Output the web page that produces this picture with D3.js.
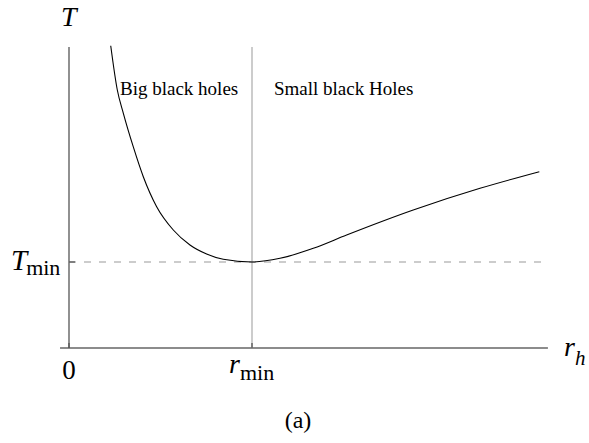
<!DOCTYPE html>
<html><head><meta charset="utf-8">
<script src="https://cdn.jsdelivr.net/npm/d3@7"></script>
<style>body{margin:0;background:#fff}svg{display:block}</style>
</head><body><svg id="c" width="589" height="443"></svg>
<script>
// data (units: r in r_min, T in T_min)
const rValues = [0.228,0.264,0.297,0.351,0.406,0.479,0.570,0.661,0.752,0.843,1.0,1.153,1.335,1.517,1.881,2.246,2.570];
const tValues = [3.515,3.0,2.729,2.341,1.992,1.643,1.372,1.198,1.093,1.031,1.0,1.043,1.159,1.314,1.605,1.857,2.050];
const xTicks = [0, 1];
const xTickLabels = ["0", "r_min"];
const yTicks = [1];
const regionLabels = ["Big black holes", "Small black Holes"];
const caption = "(a)";

const FONT = "'Liberation Serif', 'DejaVu Serif', 'Times New Roman', serif";
const svg = d3.select("#c");
const x = d3.scaleLinear().domain([0, 1]).range([69, 252]);
const y = d3.scaleLinear().domain([0, 1]).range([348, 262]);
const xMax = 2.617, yMax = 3.5, rEnd = 2.57;

// axes
svg.append("line").attr("x1", x(-0.049)).attr("x2", x(xMax)).attr("y1", y(0)).attr("y2", y(0))
  .attr("stroke", "#666").attr("stroke-width", 1.4);
svg.append("line").attr("x1", x(0)).attr("x2", x(0)).attr("y1", y(0)).attr("y2", y(yMax))
  .attr("stroke", "#555").attr("stroke-width", 1.3);
// vertical r_min line
svg.append("line").attr("x1", x(1)).attr("x2", x(1)).attr("y1", y(0)).attr("y2", y(yMax))
  .attr("stroke", "#aaa").attr("stroke-width", 1.2);
// dashed T_min
svg.append("line").attr("x1", x(0)).attr("x2", x(rEnd + 0.01)).attr("y1", y(1)).attr("y2", y(1))
  .attr("stroke", "#999").attr("stroke-width", 1).attr("stroke-dasharray", "7,8");
// ticks
xTicks.forEach(t => svg.append("line").attr("x1", x(t)).attr("x2", x(t)).attr("y1", y(0)).attr("y2", y(0) - 5)
  .attr("stroke", "#555").attr("stroke-width", 1.3));
yTicks.forEach(t => svg.append("line").attr("x1", x(0)).attr("x2", x(0) + 6).attr("y1", y(t)).attr("y2", y(t))
  .attr("stroke", "#555").attr("stroke-width", 1.3));

// curve
const pts = rValues.map((r, i) => [r, tValues[i]]);
svg.append("path").datum(pts)
  .attr("d", d3.line().x(d => x(d[0])).y(d => y(d[1])).curve(d3.curveMonotoneX))
  .attr("fill", "none").attr("stroke", "#000").attr("stroke-width", 1.1);

// labels
const T = (xx, yy, size) => svg.append("text").attr("x", xx).attr("y", yy).attr("font-size", size)
  .attr("font-family", FONT).attr("fill", "#000");
T(61, 26, 28).attr("font-style", "italic").text("T");
const tm = T(11, 270, 29);
tm.append("tspan").attr("font-style", "italic").text("T");
tm.append("tspan").attr("font-size", 22).attr("dx", -1).attr("dy", 5).text("min");
T(x(0), 379, 27).attr("text-anchor", "middle").text(xTickLabels[0]);
const rm = T(229, 373, 28);
rm.append("tspan").attr("font-style", "italic").text("r");
rm.append("tspan").attr("font-size", 22).attr("dx", 0).attr("dy", 7).text("min");
const rh = T(564, 356, 28).attr("font-style", "italic");
rh.append("tspan").text("r");
rh.append("tspan").attr("font-size", 21).attr("dy", 9).text("h");
T(120, 95, 19).text(regionLabels[0]);
T(274, 95, 19).text(regionLabels[1]);
T(298, 428, 24).attr("text-anchor", "middle").text(caption);
</script></body></html>
